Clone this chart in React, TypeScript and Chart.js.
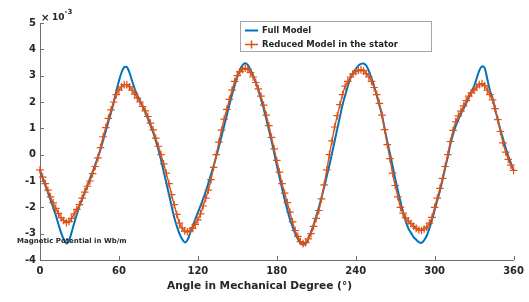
import React, { useEffect, useRef } from 'react';
import { Chart, registerables } from 'chart.js';

Chart.register(...registerables);

const angles = [
  0, 2, 4, 6, 8, 10, 12, 14, 16, 18,
  20, 22, 24, 26, 28, 30, 32, 34, 36, 38,
  40, 42, 44, 46, 48, 50, 52, 54, 56, 58,
  60, 62, 64, 66, 68, 70, 72, 74, 76, 78,
  80, 82, 84, 86, 88, 90, 92, 94, 96, 98,
  100, 102, 104, 106, 108, 110, 112, 114, 116, 118,
  120, 122, 124, 126, 128, 130, 132, 134, 136, 138,
  140, 142, 144, 146, 148, 150, 152, 154, 156, 158,
  160, 162, 164, 166, 168, 170, 172, 174, 176, 178,
  180, 182, 184, 186, 188, 190, 192, 194, 196, 198,
  200, 202, 204, 206, 208, 210, 212, 214, 216, 218,
  220, 222, 224, 226, 228, 230, 232, 234, 236, 238,
  240, 242, 244, 246, 248, 250, 252, 254, 256, 258,
  260, 262, 264, 266, 268, 270, 272, 274, 276, 278,
  280, 282, 284, 286, 288, 290, 292, 294, 296, 298,
  300, 302, 304, 306, 308, 310, 312, 314, 316, 318,
  320, 322, 324, 326, 328, 330, 332, 334, 336, 338,
  340, 342, 344, 346, 348, 350, 352, 354, 356, 358,
  360,
];

const fullModel = [
  -0.6, -0.88, -1.15, -1.43, -1.72, -2.0, -2.3, -2.64, -2.96, -3.2,
  -3.37, -3.27, -2.95, -2.6, -2.27, -1.95, -1.7, -1.43, -1.17, -0.91,
  -0.65, -0.38, -0.1, 0.2, 0.55, 0.9, 1.25, 1.6, 1.98, 2.4,
  2.8, 3.12, 3.32, 3.33, 3.12, 2.8, 2.5, 2.25, 2.05, 1.85,
  1.62, 1.37, 1.1, 0.85, 0.53, 0.2, -0.2, -0.63, -1.07, -1.5,
  -1.95, -2.38, -2.72, -3.0, -3.2, -3.33, -3.25, -3.0, -2.72, -2.46,
  -2.2, -1.95, -1.68, -1.4, -1.08, -0.75, -0.42, -0.07, 0.3, 0.7,
  1.1, 1.5, 1.9, 2.28, 2.63, 2.95, 3.22, 3.4, 3.47, 3.4,
  3.22, 3.0, 2.76, 2.45, 2.1, 1.75, 1.35, 0.95, 0.53, 0.07,
  -0.4, -0.85, -1.28, -1.7, -2.08, -2.45, -2.74, -3.0, -3.2, -3.35,
  -3.42, -3.38, -3.18, -2.95, -2.65, -2.35, -2.0, -1.63, -1.24, -0.82,
  -0.4, 0.05, 0.52, 0.98, 1.44, 1.9, 2.25, 2.6, 2.9, 3.1,
  3.25, 3.38, 3.45, 3.46, 3.38, 3.18, 2.9, 2.6, 2.25, 1.88,
  1.5, 0.98, 0.5, 0.05, -0.42, -0.9, -1.35, -1.78, -2.2, -2.52,
  -2.8, -2.97, -3.13, -3.23, -3.32, -3.35, -3.25, -3.08, -2.8, -2.47,
  -2.1, -1.74, -1.38, -0.95, -0.5, -0.08, 0.4, 0.78, 1.08, 1.33,
  1.55, 1.75, 1.95, 2.17, 2.4, 2.6, 2.9, 3.2, 3.35, 3.3,
  2.88, 2.45, 2.15, 1.72, 1.33, 0.95, 0.6, 0.25, -0.05, -0.33,
  -0.6,
];

const reducedModel = [
  -0.58, -0.85, -1.1, -1.35, -1.6, -1.83, -2.04, -2.23, -2.4, -2.5,
  -2.58, -2.54, -2.42, -2.25, -2.08, -1.9, -1.65, -1.42, -1.2, -1.0,
  -0.72, -0.45, -0.12, 0.27, 0.68, 1.03, 1.38, 1.7, 2.0, 2.28,
  2.45, 2.58, 2.66, 2.66, 2.58, 2.45, 2.3, 2.15, 2.0, 1.83,
  1.66, 1.45, 1.2, 0.94, 0.63, 0.32, 0.0, -0.35, -0.7, -1.1,
  -1.52, -1.9, -2.27, -2.6, -2.78, -2.9, -2.93, -2.88, -2.8, -2.65,
  -2.48, -2.25, -1.95, -1.65, -1.35, -0.95, -0.48, 0.0, 0.48, 0.93,
  1.35, 1.72, 2.1, 2.45, 2.78, 3.0, 3.15, 3.24, 3.28, 3.24,
  3.12, 2.95, 2.74, 2.5, 2.22, 1.88, 1.5, 1.1, 0.66, 0.22,
  -0.22, -0.66, -1.1, -1.46, -1.82, -2.18, -2.55, -2.88, -3.1, -3.3,
  -3.38, -3.34, -3.2, -3.0, -2.72, -2.42, -2.12, -1.68, -1.15, -0.58,
  0.0, 0.52, 1.05, 1.48, 1.9, 2.28, 2.6, 2.78, 2.95, 3.07,
  3.15, 3.2, 3.22, 3.18, 3.08, 2.95, 2.78, 2.55, 2.28, 1.95,
  1.5, 0.95, 0.38, -0.15, -0.7, -1.17, -1.6, -2.0, -2.22, -2.4,
  -2.52, -2.62, -2.72, -2.8, -2.86, -2.88, -2.82, -2.75, -2.6, -2.38,
  -2.0, -1.65, -1.28, -0.9, -0.45, 0.0, 0.5, 0.92, 1.25, 1.47,
  1.65, 1.85, 2.05, 2.22, 2.35, 2.45, 2.57, 2.66, 2.7, 2.62,
  2.45, 2.28, 2.08, 1.75, 1.33, 0.88, 0.45, 0.1, -0.18, -0.4,
  -0.6,
];

const xTickValues = [0, 60, 120, 180, 240, 300, 360];
const yTickValues = [-4, -3, -2, -1, 0, 1, 2, 3, 4, 5];
const seriesNames = ['Full Model', 'Reduced Model in the stator'];
const xAxisTitle = 'Angle in Mechanical Degree (°)';
const yAxisNote = 'Magnetic Potential in Wb/m';
const exponentSign = '×';
const exponentBase = '10';
const exponentPower = '-3';

const BLUE = '#0072BD';
const ORANGE = '#D95319';
const AXIS = '#6e6e6e';
const TEXT = '#262626';
const FONT = '"DejaVu Sans", sans-serif';

const decorations = {
  id: 'decorations',
  afterDatasetsDraw(chart: any) {
    const { ctx, chartArea: a, scales } = chart;
    const xs = scales.x;
    const ys = scales.y;
    ctx.save();

    // inward tick marks
    ctx.strokeStyle = AXIS;
    ctx.lineWidth = 1;
    ctx.beginPath();
    for (const v of xTickValues) {
      const px = Math.round(xs.getPixelForValue(v)) + 0.5;
      ctx.moveTo(px, a.bottom);
      ctx.lineTo(px, a.bottom - 4);
    }
    for (const v of yTickValues) {
      const py = Math.round(ys.getPixelForValue(v)) + 0.5;
      ctx.moveTo(a.left, py);
      ctx.lineTo(a.left + 4, py);
    }
    ctx.stroke();

    // exponent label
    ctx.fillStyle = TEXT;
    ctx.textAlign = 'left';
    ctx.textBaseline = 'alphabetic';
    ctx.font = `bold 10px ${FONT}`;
    ctx.fillText(exponentSign, a.left + 1, a.top - 2);
    ctx.font = `bold 9px ${FONT}`;
    ctx.fillText(exponentBase, a.left + 12, a.top - 3);
    ctx.font = `bold 7px ${FONT}`;
    ctx.fillText(exponentPower, a.left + 24.5, a.top - 9);

    // x axis title
    ctx.font = `bold 10.6px ${FONT}`;
    ctx.textAlign = 'center';
    ctx.textBaseline = 'middle';
    ctx.fillText(xAxisTitle, 259.5, 286);

    // y note
    ctx.font = `bold 7px ${FONT}`;
    ctx.textAlign = 'left';
    ctx.fillText(yAxisNote, 17, ys.getPixelForValue(-3.29));

    // legend
    const lx = 240.5, ly = 21.5, lw = 191, lh = 30;
    ctx.fillStyle = '#ffffff';
    ctx.fillRect(lx, ly, lw, lh);
    ctx.strokeStyle = '#a6a6a6';
    ctx.lineWidth = 1;
    ctx.strokeRect(lx, ly, lw, lh);

    ctx.strokeStyle = BLUE;
    ctx.lineWidth = 2;
    ctx.beginPath();
    ctx.moveTo(245, 30.5);
    ctx.lineTo(258, 30.5);
    ctx.stroke();

    ctx.strokeStyle = ORANGE;
    ctx.lineWidth = 1.5;
    ctx.beginPath();
    ctx.moveTo(245, 44.5);
    ctx.lineTo(258, 44.5);
    ctx.moveTo(251.5, 40.5);
    ctx.lineTo(251.5, 48.5);
    ctx.stroke();

    ctx.fillStyle = TEXT;
    ctx.font = `bold 8.5px ${FONT}`;
    ctx.textBaseline = 'middle';
    ctx.fillText(seriesNames[0], 262, 30.5);
    ctx.fillText(seriesNames[1], 262, 44.5);

    ctx.restore();
  },
};

export default function App() {
  const canvasRef = useRef<HTMLCanvasElement | null>(null);

  useEffect(() => {
    const canvas = canvasRef.current;
    if (!canvas) return;
    const tickFont = { family: FONT, size: 10, weight: 'bold' as const };
    const chart = new Chart(canvas, {
      type: 'line',
      data: {
        datasets: [
          {
            label: seriesNames[0],
            data: angles.map((a, i) => ({ x: a, y: fullModel[i] })),
            borderColor: BLUE,
            backgroundColor: BLUE,
            borderWidth: 2,
            pointRadius: 0,
            tension: 0.35,
            fill: false,
            order: 2,
            clip: false as any,
          },
          {
            label: seriesNames[1],
            data: angles.map((a, i) => ({ x: a, y: reducedModel[i] })),
            borderColor: ORANGE,
            backgroundColor: ORANGE,
            borderWidth: 1.4,
            pointStyle: 'cross',
            pointRadius: 3.8,
            pointBorderWidth: 1.2,
            pointBorderColor: ORANGE,
            tension: 0.2,
            fill: false,
            order: 1,
            clip: false as any,
          },
        ],
      },
      options: {
        responsive: false,
        animation: false,
        devicePixelRatio: 1,
        parsing: true,
        layout: { padding: { left: 0, right: 15, top: 23, bottom: 0 } },
        plugins: {
          legend: { display: false },
          tooltip: { enabled: false },
        },
        scales: {
          x: {
            type: 'linear',
            min: 0,
            max: 360,
            afterBuildTicks: (s: any) => {
              s.ticks = xTickValues.map((v) => ({ value: v }));
            },
            afterFit: (s: any) => {
              s.height = 42;
            },
            grid: { display: false, drawTicks: false },
            border: { display: true, color: AXIS, width: 1 },
            ticks: {
              font: tickFont,
              color: TEXT,
              padding: 5,
              maxRotation: 0,
              autoSkip: false,
            },
          },
          y: {
            type: 'linear',
            min: -4,
            max: 5,
            afterBuildTicks: (s: any) => {
              s.ticks = yTickValues.map((v) => ({ value: v }));
            },
            afterFit: (s: any) => {
              s.width = 40;
            },
            grid: { display: false, drawTicks: false },
            border: { display: true, color: AXIS, width: 1 },
            ticks: {
              font: tickFont,
              color: TEXT,
              padding: 4,
              autoSkip: false,
            },
          },
        },
      },
      plugins: [decorations],
    });
    return () => chart.destroy();
  }, []);

  return (
    <div
      style={{
        position: 'fixed',
        left: 0,
        top: 0,
        width: 529,
        height: 302,
        background: '#ffffff',
      }}
    >
      <canvas ref={canvasRef} width={529} height={302} style={{ display: 'block' }} />
    </div>
  );
}
